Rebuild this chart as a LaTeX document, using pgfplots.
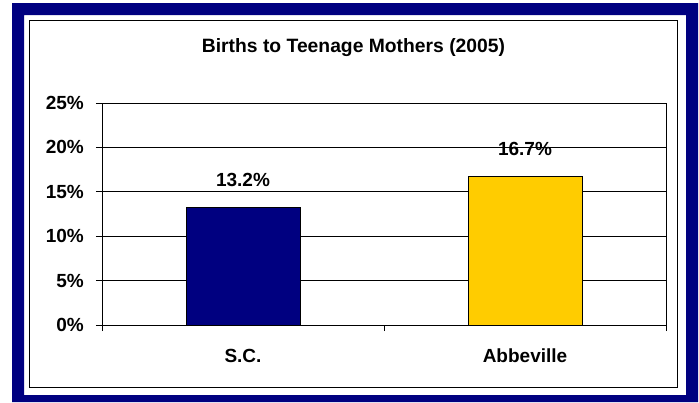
\documentclass[border=0pt]{standalone}
\usepackage{pgfplots}
\pgfplotsset{compat=1.18}
\usepackage{fontspec}
\setmainfont{Liberation Sans}
\definecolor{framenavy}{RGB}{0,0,128}
\definecolor{bargold}{RGB}{255,204,0}
\begin{document}
\begin{tikzpicture}
\fill[white] (0pt,0pt) rectangle (699pt,-402pt);
\fill[framenavy, even odd rule] (12pt,-3pt) rectangle (698pt,-402pt) (24pt,-15pt) rectangle (686pt,-395pt);
\draw[black, line width=1.2pt] (29.5pt,-20.5pt) rectangle (677.5pt,-387.5pt);
\node[anchor=base, inner sep=0pt, font=\bfseries\fontsize{19.3}{23}\selectfont] at (353.5pt,-52.7pt) {Births to Teenage Mothers (2005)};
\begin{axis}[
  at={(102pt,-325pt)}, anchor=south west,
  scale only axis, width=564pt, height=222pt,
  xmin=-0.5, xmax=1.5, ymin=0, ymax=25,
  xtick={0,1}, xticklabels={S.C.,Abbeville},
  minor xtick={-0.5,0.5,1.5},
  ytick={0,5,10,15,20,25}, yticklabels={0\%,5\%,10\%,15\%,20\%,25\%},
  tick align=outside, xtick pos=bottom, ytick pos=left,
  major tick length=6pt, minor tick length=6pt,
  major x tick style={draw=none},
  ymajorgrids, grid style={black, line width=0.8pt},
  axis line style={black, line width=0.9pt},
  tick style={black, line width=0.9pt},
  ticklabel style={font=\bfseries\fontsize{19}{23}\selectfont},
  yticklabel style={inner sep=0pt, anchor=east, xshift=-12pt},
  xticklabel style={inner sep=0pt, anchor=north, text height=14pt, text depth=0pt, yshift=-17pt},
  nodes near coords, point meta=explicit symbolic,
  every node near coord/.append style={font=\bfseries\fontsize{19}{23}\selectfont, inner sep=0pt, anchor=south, yshift=20.5pt},
  clip=false,
]
\addplot[ybar, bar width=114pt, bar shift=0pt, fill=framenavy, draw=black, line width=0.8pt] coordinates {(0,13.2) [13.2\%]};
\addplot[ybar, bar width=114pt, bar shift=0pt, fill=bargold, draw=black, line width=0.8pt] coordinates {(1,16.7) [16.7\%]};
\end{axis}
\end{tikzpicture}
\end{document}
